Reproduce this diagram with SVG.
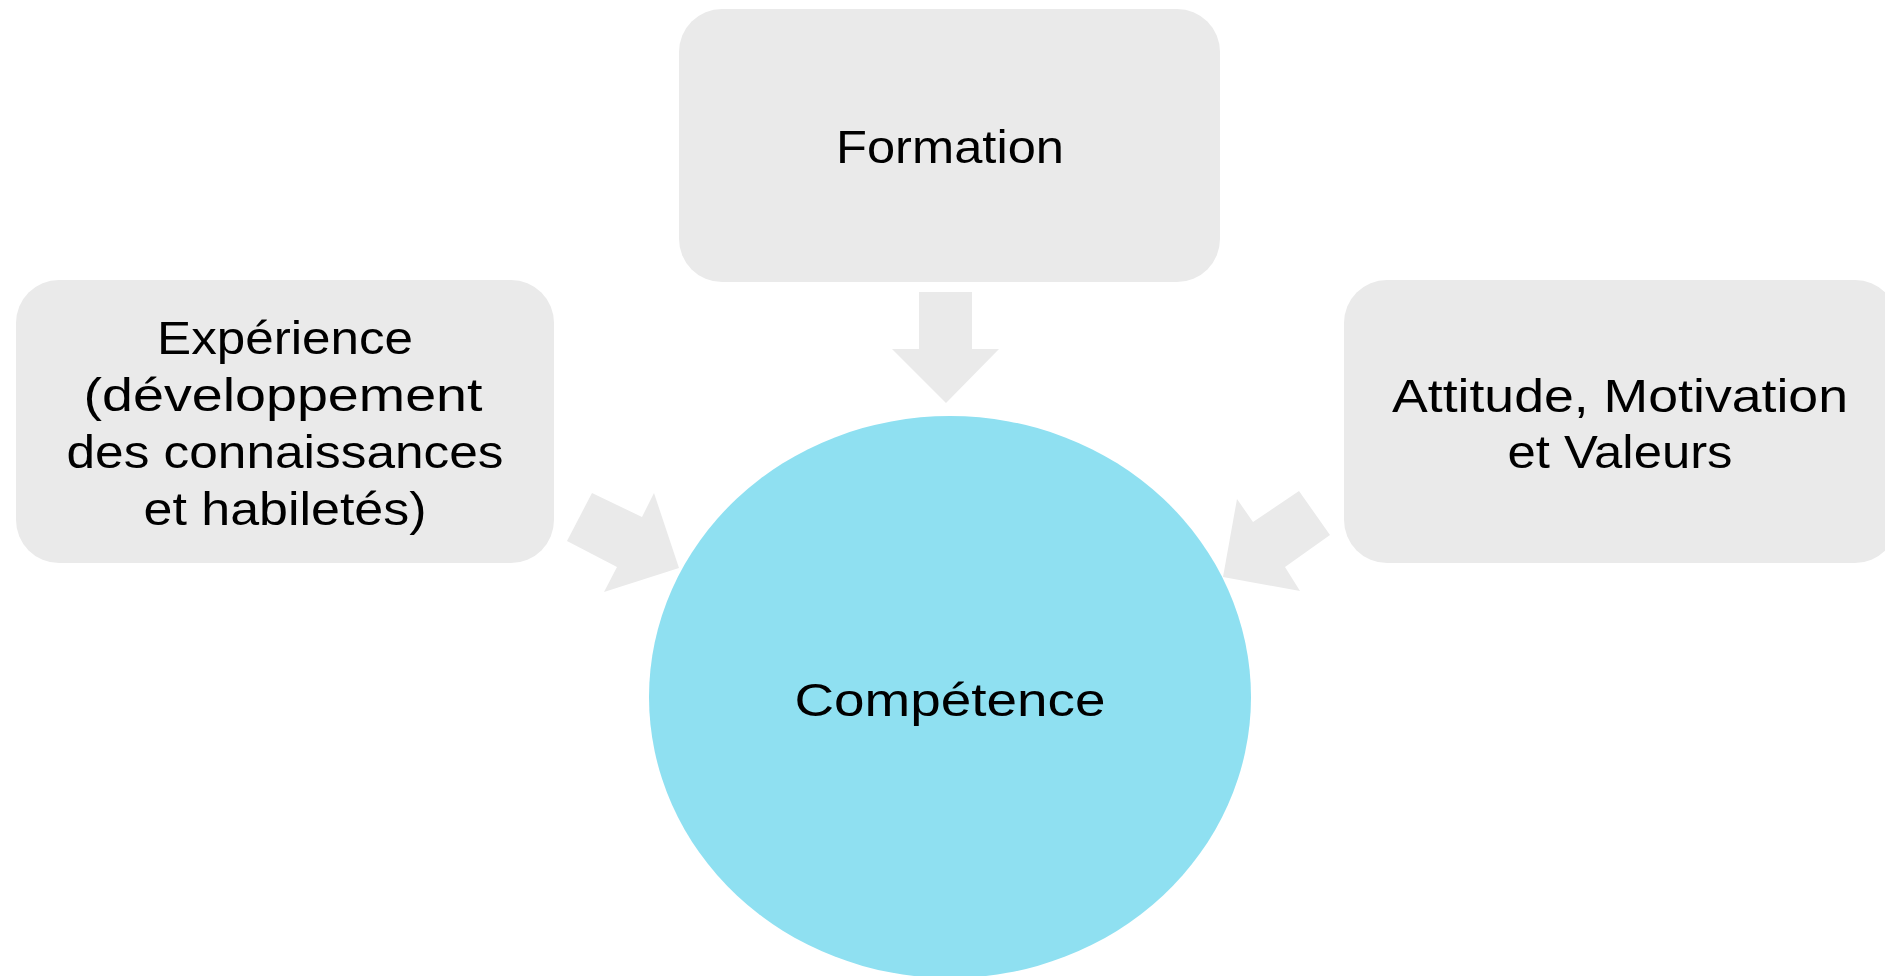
<svg xmlns="http://www.w3.org/2000/svg" width="1885" height="976" viewBox="0 0 1885 976">
  <style>
    .box { fill: #EAEAEA; }
    .arrow { fill: #EAEAEA; }
    .core { fill: #8FE0F1; }
    .lbl { font-family: "Liberation Sans", Arial, sans-serif; font-size: 47px; fill: #000000; text-anchor: middle; }
  </style>
  <rect width="1885" height="976" fill="#FFFFFF"/>

  <!-- block arrows pointing into the centre -->
  <g id="connectors">
    <polygon class="arrow" points="919,292 972,292 972,349 999,349 946,403 892,349 919,349"/>
    <polygon class="arrow" points="592,493 642,517 654,493 679,568 604,592 617,567 567,541"/>
    <polygon class="arrow" points="1299,491 1330,535 1285,567 1300,591 1223,577 1237,499 1253,522"/>
  </g>

  <g id="node-formation">
    <rect class="box" x="679" y="9" width="541" height="273" rx="43" ry="43"/>
    <text class="lbl" x="950" y="163" textLength="228" lengthAdjust="spacingAndGlyphs">Formation</text>
  </g>

  <g id="node-experience">
    <rect class="box" x="16" y="280" width="538" height="283" rx="43" ry="43"/>
    <text class="lbl" x="285" y="354" textLength="256" lengthAdjust="spacingAndGlyphs">Expérience</text>
    <text class="lbl" x="283" y="411" textLength="399" lengthAdjust="spacingAndGlyphs">(développement</text>
    <text class="lbl" x="285" y="468" textLength="437" lengthAdjust="spacingAndGlyphs">des connaissances</text>
    <text class="lbl" x="285" y="525" textLength="283" lengthAdjust="spacingAndGlyphs">et habiletés)</text>
  </g>

  <g id="node-attitude">
    <rect class="box" x="1344" y="280" width="554" height="283" rx="43" ry="43"/>
    <text class="lbl" x="1620" y="412" textLength="456" lengthAdjust="spacingAndGlyphs">Attitude, Motivation</text>
    <text class="lbl" x="1620" y="468" textLength="225" lengthAdjust="spacingAndGlyphs">et Valeurs</text>
  </g>

  <g id="node-competence">
    <ellipse class="core" cx="950" cy="697" rx="301" ry="281"/>
    <text class="lbl" x="950" y="716" textLength="311" lengthAdjust="spacingAndGlyphs">Compétence</text>
  </g>
</svg>
